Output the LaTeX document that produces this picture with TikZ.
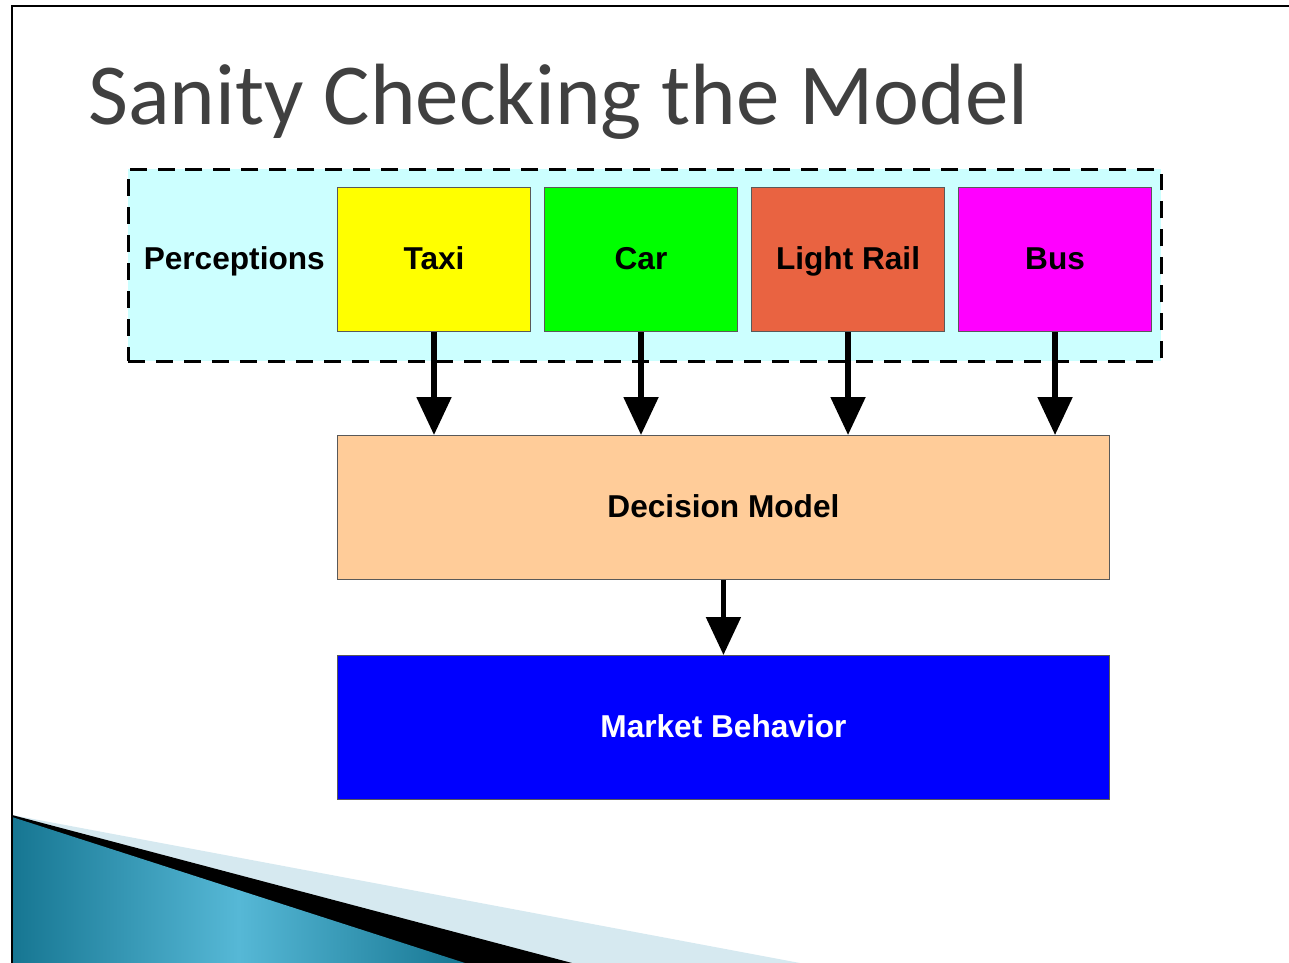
\documentclass[tikz,border=0pt]{standalone}
\usepackage{fontspec}
\setmainfont{Liberation Sans}
\newfontfamily\titlefont{Carlito}
\usetikzlibrary{shapes, arrows.meta, calc, positioning, fit, backgrounds}
\definecolor{titlegrey}{RGB}{64,64,64}
\definecolor{groupcyan}{RGB}{204,255,255}
\definecolor{taxiyellow}{RGB}{255,255,0}
\definecolor{cargreen}{RGB}{0,255,0}
\definecolor{railred}{RGB}{233,99,65}
\definecolor{busmagenta}{RGB}{255,0,255}
\definecolor{peach}{RGB}{255,204,153}
\definecolor{marketblue}{RGB}{0,0,255}
\definecolor{tealdark}{RGB}{22,118,146}
\definecolor{teallight}{RGB}{86,184,214}
\definecolor{swooshpale}{RGB}{214,233,240}

\tikzset{
    modebox/.style={draw=black!65, line width=0.6pt, minimum width=3.86cm, minimum height=2.88cm, text height=2.5ex, text depth=0.4ex, font=\bfseries\fontsize{18}{21}\selectfont},
    widebox/.style={modebox, minimum width=15.44cm},
    flow/.style={-{Triangle[length=0.76cm, width=0.68cm]}, line width=3pt}
}

\begin{document}
\begin{tikzpicture}[x=0.02cm, y=-0.02cm]
        \useasboundingbox (0,0) rectangle (1289,963);

        % slide frame and corner swoosh
        \fill [swooshpale] (12,815) -- (800,963) -- (12,963) -- cycle;
        \fill [black] (12,815) -- (572,963) -- (12,963) -- cycle;
        \shade [left color=tealdark, right color=tealdark, middle color=teallight] (12,817) -- (465,963) -- (12,963) -- cycle;
        \draw [line width=1.7pt] (12,963) -- (12,6) -- (1289,6);

        \node [font=\titlefont\fontsize{49.5}{56}\selectfont, color=titlegrey, inner sep=0, anchor=base west] (Title) at (88,125) {Sanity Checking the Model};

        % perceptions group
        \node [draw, dashed, dash pattern=on 0.34cm off 0.22cm, line width=1.7pt, fill=groupcyan, anchor=north west, minimum width=20.66cm, minimum height=3.84cm, inner sep=0] (Group) at (127,168) {};

        \node [modebox, fill=taxiyellow, anchor=north west] (Taxi) at (337,187) {Taxi};
        \node [modebox, fill=cargreen, right=0.26cm of Taxi] (Car) {Car};
        \node [modebox, fill=railred, right=0.26cm of Car] (Rail) {Light Rail};
        \node [modebox, fill=busmagenta, right=0.26cm of Rail] (Bus) {Bus};
        \node [font=\bfseries\fontsize{18}{21}\selectfont, text height=2.5ex, text depth=0.4ex, left=0.12cm of Taxi] (Perc) {Perceptions};

        \node [widebox, fill=peach, below=2.06cm of Taxi.south west, anchor=north west] (Decision) {Decision Model};
        \node [widebox, fill=marketblue, text=white, below=1.5cm of Decision] (Market) {Market Behavior};

        \draw [flow] (Taxi) -- (Taxi |- Decision.north);
        \draw [flow] (Car) -- (Car |- Decision.north);
        \draw [flow] (Rail) -- (Rail |- Decision.north);
        \draw [flow] (Bus) -- (Bus |- Decision.north);
        \draw [flow] (Decision) -- (Market);
\end{tikzpicture}
\end{document}
